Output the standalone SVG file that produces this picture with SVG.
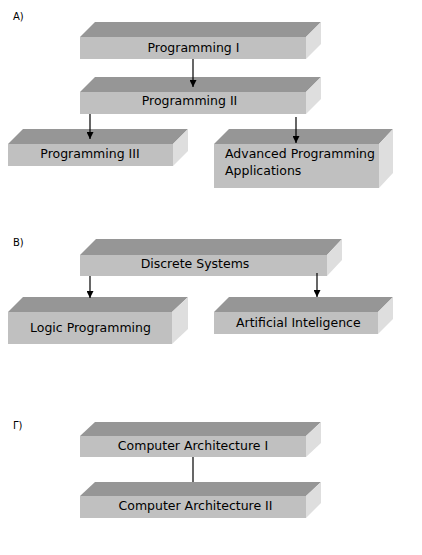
<svg xmlns="http://www.w3.org/2000/svg" width="422" height="555" viewBox="0 0 422 555">
<style>
.top{fill:#969696}
.front{fill:#c0c0c0}
.side{fill:#dedede}
.t{font-family:"DejaVu Sans",Verdana,sans-serif;font-size:12.5px;fill:#000}
.c{text-anchor:middle}
.lbl{font-family:"DejaVu Sans",Verdana,sans-serif;font-size:10px;fill:#000}
.con line{stroke:#000;stroke-width:1.2}
</style>
<defs>
<marker id="ah" viewBox="0 0 10 10" refX="10" refY="5" markerWidth="7" markerHeight="7" markerUnits="userSpaceOnUse" orient="auto">
<path d="M0,0 L10,5 L0,10 z" fill="#000"/>
</marker>
</defs>
<rect width="422" height="555" fill="#fff"/>
<text class="lbl" x="13" y="20">A)</text>
<text class="lbl" x="13" y="246">B)</text>
<text class="lbl" x="13" y="429">Γ)</text>

<g id="prog1">
<polygon class="top" points="80,37 95,22 321,22 306,37"/>
<polygon class="side" points="306,37 321,22 321,44 306,59"/>
<rect class="front" x="80" y="37" width="226" height="22"/>
<text class="t c" x="193.5" y="52">Programming I</text>
</g>
<g id="prog2">
<polygon class="top" points="80,92 95,77 321,77 306,92"/>
<polygon class="side" points="306,92 321,77 321,99 306,114"/>
<rect class="front" x="80" y="92" width="226" height="22"/>
<text class="t c" x="189.5" y="105">Programming II</text>
</g>
<g id="prog3">
<polygon class="top" points="8,144 23,129 188,129 173,144"/>
<polygon class="side" points="173,144 188,129 188,151 173,166"/>
<rect class="front" x="8" y="144" width="165" height="22"/>
<text class="t c" x="90" y="158">Programming III</text>
</g>
<g id="advprog">
<polygon class="top" points="214,144 229,129 393,129 379,144"/>
<polygon class="side" points="379,144 393,129 393,173 379,188"/>
<rect class="front" x="214" y="144" width="165" height="44"/>
<text class="t" x="225" y="158">Advanced Programming</text>
<text class="t" x="225" y="175">Applications</text>
</g>

<g id="discrete">
<polygon class="top" points="80,255 96,239 342,239 327,255"/>
<polygon class="side" points="327,255 342,239 342,260 327,276"/>
<rect class="front" x="80" y="255" width="247" height="21"/>
<text class="t c" x="195" y="268">Discrete Systems</text>
</g>
<g id="logic">
<polygon class="top" points="8,312 23,297 188,297 172,312"/>
<polygon class="side" points="172,312 188,297 188,329 172,344"/>
<rect class="front" x="8" y="312" width="164" height="32"/>
<text class="t" x="30" y="332">Logic Programming</text>
</g>
<g id="ai">
<polygon class="top" points="214,312 229,297 393,297 378,312"/>
<polygon class="side" points="378,312 393,297 393,319 378,334"/>
<rect class="front" x="214" y="312" width="164" height="22"/>
<text class="t" x="236" y="327">Artificial Inteligence</text>
</g>

<g id="arch1">
<polygon class="top" points="80,436 95,422 321,422 306,436"/>
<polygon class="side" points="306,436 321,422 321,443 306,457"/>
<rect class="front" x="80" y="436" width="226" height="21"/>
<text class="t c" x="193" y="450">Computer Architecture I</text>
</g>
<g id="arch2">
<polygon class="top" points="80,496 95,482 321,482 306,496"/>
<polygon class="side" points="306,496 321,482 321,503 306,518"/>
<rect class="front" x="80" y="496" width="226" height="22"/>
<text class="t c" x="195.5" y="510">Computer Architecture II</text>
</g>

<g class="con">
<line x1="193" y1="59" x2="193" y2="87" marker-end="url(#ah)"/>
<line x1="90" y1="114" x2="90" y2="139" marker-end="url(#ah)"/>
<line x1="296" y1="117" x2="296" y2="143" marker-end="url(#ah)"/>
<line x1="90" y1="276" x2="90" y2="298" marker-end="url(#ah)"/>
<line x1="317" y1="273" x2="317" y2="297" marker-end="url(#ah)"/>
<line x1="193" y1="457" x2="193" y2="482"/>
</g>
</svg>
